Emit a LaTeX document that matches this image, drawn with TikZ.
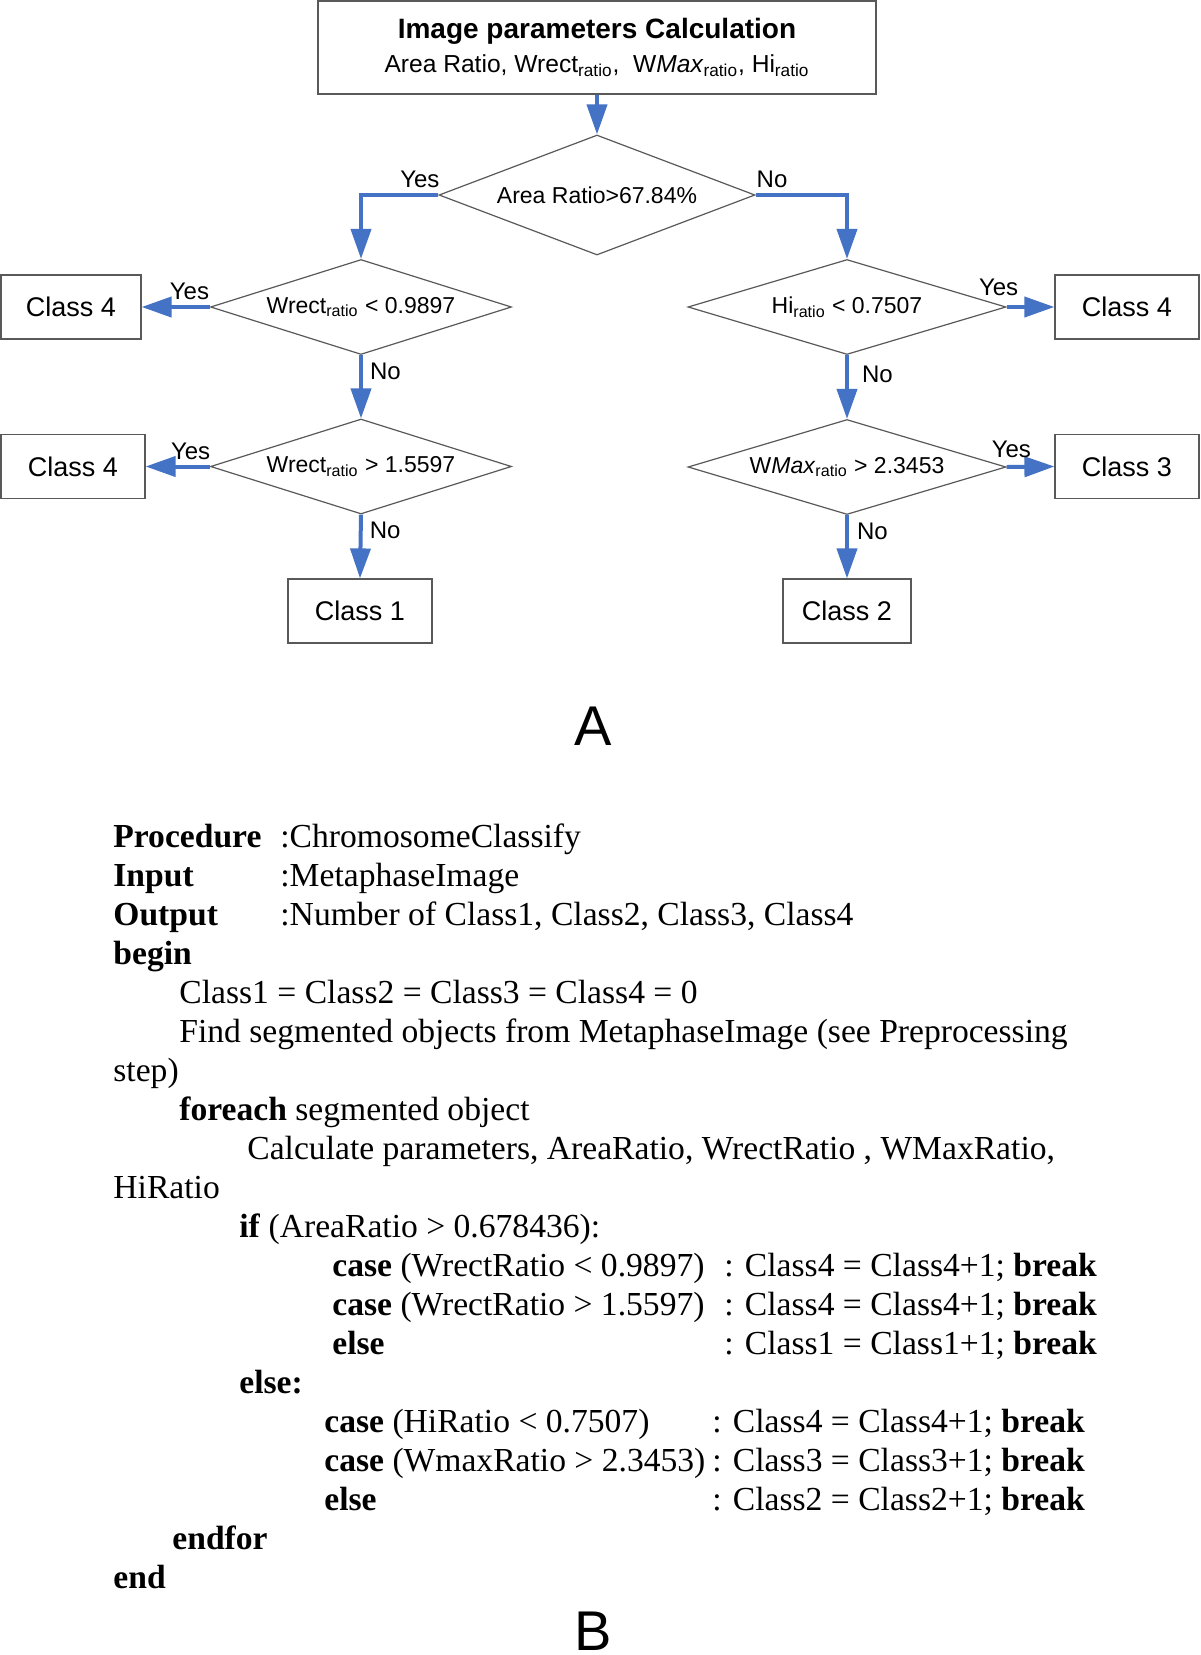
\documentclass[tikz,border=0pt]{standalone}
\usepackage{fontspec}
\setmainfont{Liberation Serif}
\newfontfamily\arialfont{Liberation Sans}
\usetikzlibrary{arrows.meta, positioning, shapes.geometric}

\definecolor{flowblue}{RGB}{68,114,196}

\begin{document}
\begin{tikzpicture}[
    x=0.5pt, y=-0.5pt,
    box/.style={draw=black!65, line width=0.6pt, minimum height=32pt, inner sep=2pt, font=\arialfont\fontsize{13.5}{16}\selectfont},
    decision/.style={diamond, draw=black!65, line width=0.6pt, aspect=3, inner sep=0pt, minimum width=150.5pt, minimum height=47.5pt, font=\arialfont\fontsize{11.5}{14}\selectfont},
    flow/.style={draw=flowblue, line width=2pt, -{Triangle[length=15pt, width=10pt]}},
    answer/.style={font=\arialfont\fontsize{12}{14}\selectfont, inner sep=2.5pt},
    code/.style={anchor=base west, inner sep=0pt, font=\fontsize{16.8}{19.5}\selectfont},
    panel/.style={anchor=base, inner sep=0pt, font=\arialfont\fontsize{28}{32}\selectfont}
]
    \path[fill=white, use as bounding box] (0,0) rectangle (1200,1655);

    % A: decision tree
    \node[box, minimum width=279pt, minimum height=46.5pt, align=center] (calc) at (597,47.5)
        {{\bfseries\fontsize{14}{17}\selectfont Image parameters Calculation}\\[1pt]
         {\fontsize{12.3}{14}\selectfont Area Ratio, Wrect\textsubscript{ratio},\ \ W\textit{Max}\textsubscript{ratio}, Hi\textsubscript{ratio}}};

    \node[decision, minimum width=158pt, minimum height=60pt] (area) at (597,195) {Area Ratio>67.84\%};
    \node[decision] (wlow) at (361,307) {Wrect\textsubscript{ratio} < 0.9897};
    \node[decision] (whigh) at (361,466.5) {Wrect\textsubscript{ratio} > 1.5597};
    \node[decision, minimum width=159pt] (hilow) at (847,307) {Hi\textsubscript{ratio} < 0.7507};
    \node[decision, minimum width=159pt] (wmax) at (847,467) {W\textit{Max}\textsubscript{ratio} > 2.3453};

    \node[box, minimum width=70pt] (left4a) at (71,307) {Class 4};
    \node[box, minimum width=72pt] (left4b) at (73,466.5) {Class 4};
    \node[box, minimum width=72pt] (class1) at (360,611) {Class 1};
    \node[box, minimum width=72pt] (right4) at (1127,307) {Class 4};
    \node[box, minimum width=72pt] (class3) at (1127,466.5) {Class 3};
    \node[box, minimum width=64pt] (class2) at (847,611) {Class 2};

    \draw[flow] (calc.south) -- (area.north);
    \draw[flow] (area.west) -| node[answer, above, pos=0.12] {Yes} (wlow.north);
    \draw[flow] (area.east) -| node[answer, above, pos=0.09] {No} (hilow.north);
    \draw[flow] (wlow.west) -- node[answer, above, pos=0.3] {Yes} (left4a.east);
    \draw[flow] (wlow.south) -- node[answer, right, pos=0.25, xshift=1pt] {No} (whigh.north);
    \draw[flow] (whigh.west) -- node[answer, above, pos=0.3] {Yes} (left4b.east);
    \draw[flow] (whigh.south) -- node[answer, right, pos=0.25, xshift=1pt] {No} (class1.north);
    \draw[flow] (hilow.east) -- node[answer, above, pos=0, xshift=-4pt, yshift=2pt] {Yes} (right4.west);
    \draw[flow] (hilow.south) -- node[answer, right, pos=0.3, xshift=4pt] {No} (wmax.north);
    \draw[flow] (wmax.east) -- node[answer, above, pos=0.1, yshift=1pt] {Yes} (class3.west);
    \draw[flow] (wmax.south) -- node[answer, right, pos=0.25, xshift=1.5pt] {No} (class2.north);

    \node[panel] (panelA) at (593,745) {A};

    % B: pseudo code
    \node[code] (proc) at (113,847) {\makebox[83.5pt][l]{\textbf{Procedure}}:ChromosomeClassify};
    \node[code] (input) at (113,886) {\makebox[83.5pt][l]{\textbf{Input}}:MetaphaseImage};
    \node[code] (output) at (113,925) {\makebox[83.5pt][l]{\textbf{Output}}:Number of Class1, Class2, Class3, Class4};
    \node[code] (begin) at (113,964) {\textbf{begin}};
    \node[code] (init) at (179,1003) {Class1 = Class2 = Class3 = Class4 = 0};
    \node[code] (find) at (179,1042) {Find segmented objects from MetaphaseImage (see Preprocessing};
    \node[code] (findb) at (113,1081) {step)};
    \node[code] (loop) at (179,1120) {\textbf{foreach} segmented object};
    \node[code] (params) at (247,1159) {Calculate parameters, AreaRatio, WrectRatio , WMaxRatio,};
    \node[code] (paramsb) at (113,1198) {HiRatio};
    \node[code] (ifarea) at (239,1237) {\textbf{if} (AreaRatio > 0.678436):};
    \node[code] (caseA) at (332,1276) {\makebox[196pt][l]{\textbf{case} (WrectRatio < 0.9897)}: Class4 = Class4+1; \textbf{break}};
    \node[code] (caseB) at (332,1315) {\makebox[196pt][l]{\textbf{case} (WrectRatio > 1.5597)}: Class4 = Class4+1; \textbf{break}};
    \node[code] (caseC) at (332,1354) {\makebox[196pt][l]{\textbf{else}}: Class1 = Class1+1; \textbf{break}};
    \node[code] (elsearea) at (239,1393) {\textbf{else:}};
    \node[code] (caseD) at (324,1432) {\makebox[194pt][l]{\textbf{case} (HiRatio < 0.7507)}: Class4 = Class4+1; \textbf{break}};
    \node[code] (caseE) at (324,1471) {\makebox[194pt][l]{\textbf{case} (WmaxRatio > 2.3453)}: Class3 = Class3+1; \textbf{break}};
    \node[code] (caseF) at (324,1510) {\makebox[194pt][l]{\textbf{else}}: Class2 = Class2+1; \textbf{break}};
    \node[code] (endloop) at (172,1549) {\textbf{endfor}};
    \node[code] (endproc) at (113,1588) {\textbf{end}};

    \node[panel] (panelB) at (593,1650) {B};
\end{tikzpicture}
\end{document}
